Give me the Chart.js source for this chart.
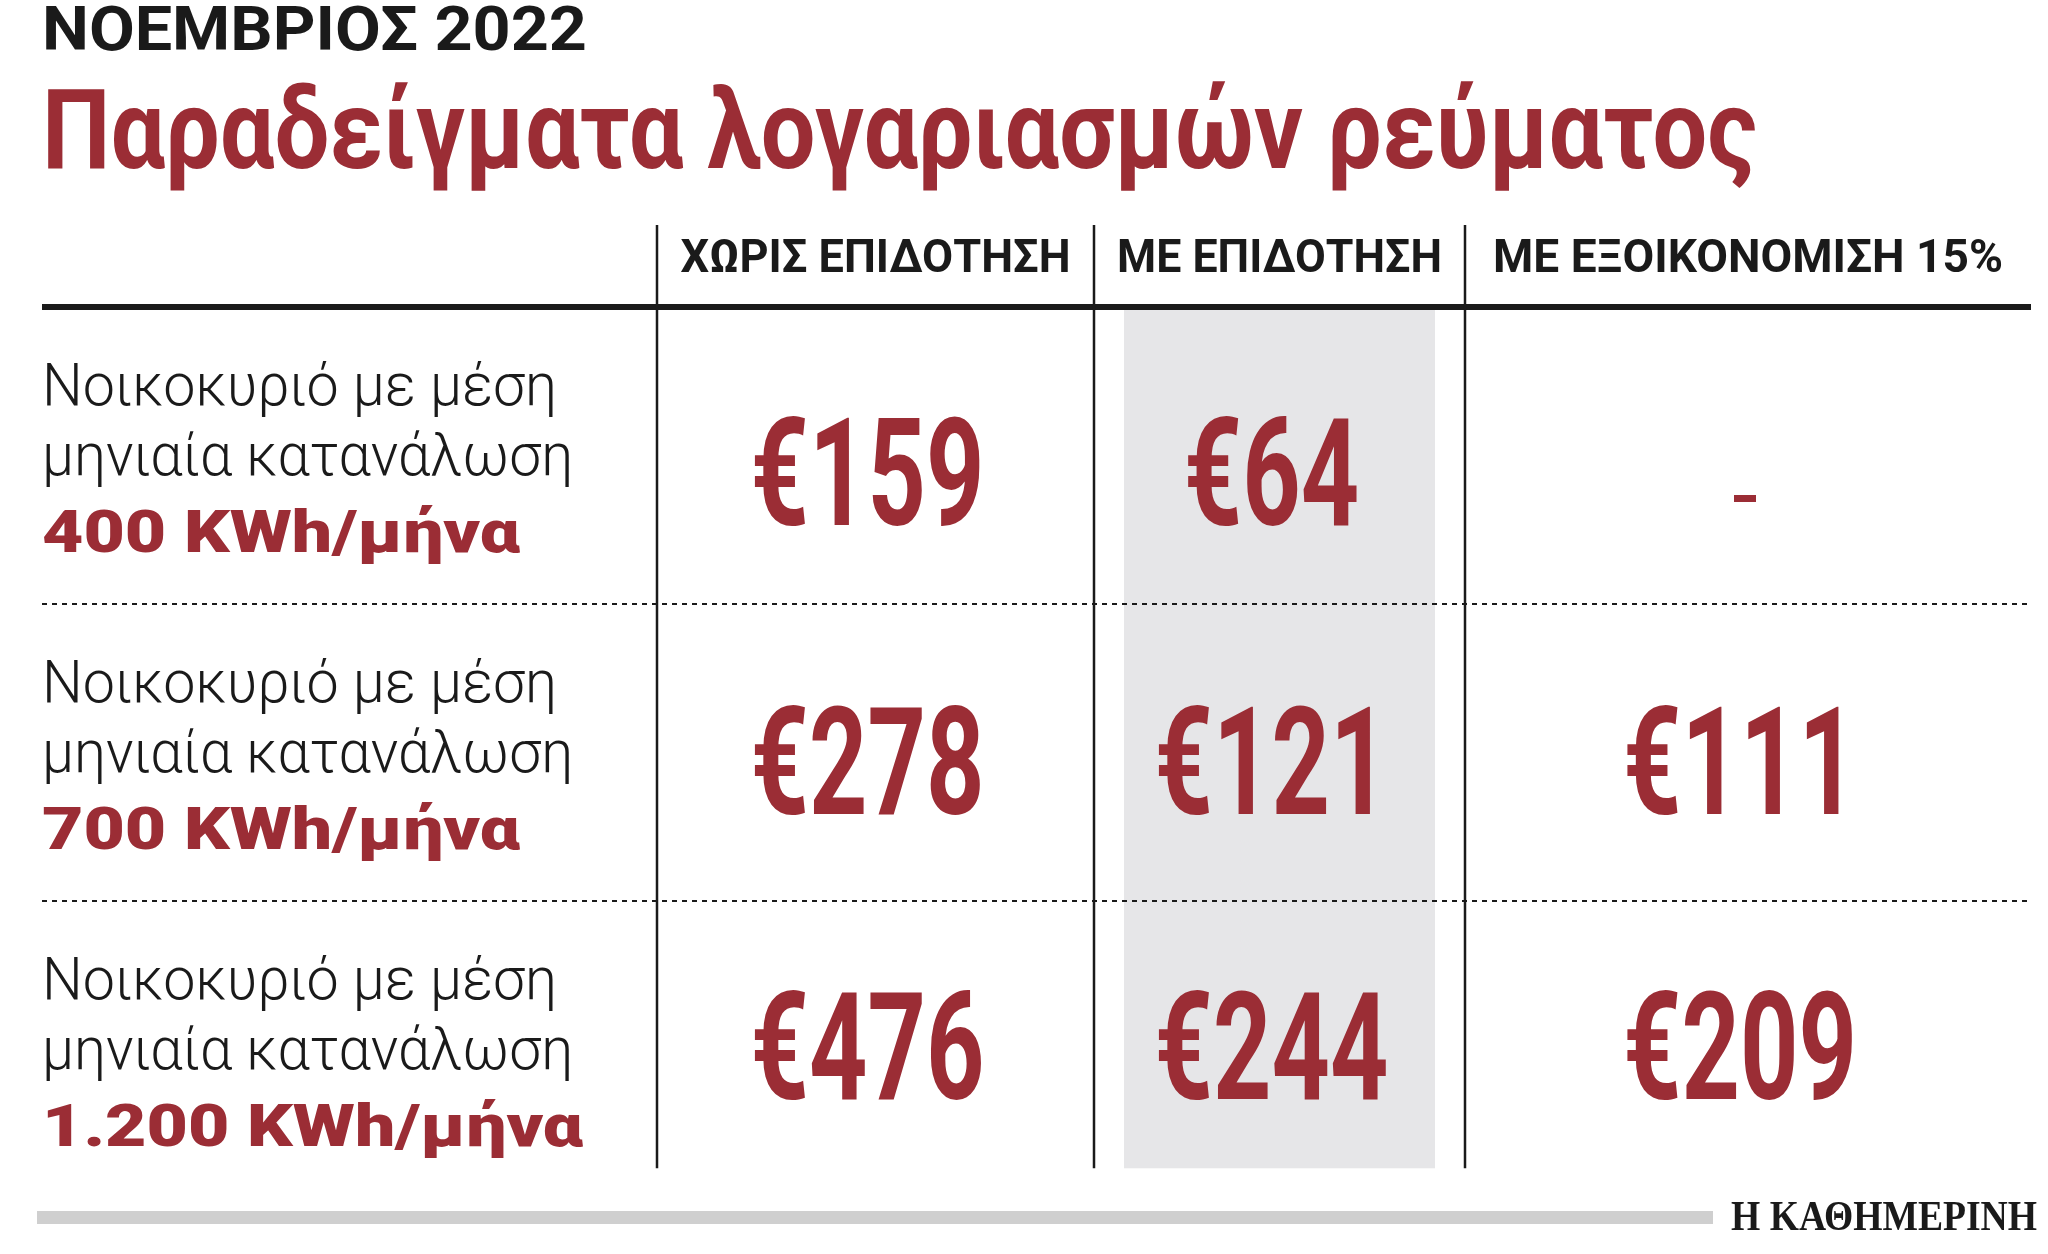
<!DOCTYPE html>
<html>
<head>
<meta charset="utf-8">
<script src="https://cdn.jsdelivr.net/npm/chart.js@4"></script>
<style>
  html, body { margin: 0; padding: 0; background: #fff; }
  #wrap { width: 2048px; height: 1254px; }
</style>
</head>
<body>
<div id="wrap"><canvas id="chart" width="2048" height="1254"></canvas></div>
<script>
// data
const kicker = 'ΝΟΕΜΒΡΙΟΣ 2022';
const title = 'Παραδείγματα λογαριασμών ρεύματος';
const columns = ['ΧΩΡΙΣ ΕΠΙΔΟΤΗΣΗ', 'ΜΕ ΕΠΙΔΟΤΗΣΗ', 'ΜΕ ΕΞΟΙΚΟΝΟΜΙΣΗ 15%'];
const colWidths = [615, 437, 371, 566];   // label column + 3 value columns
const rowLabel1 = 'Νοικοκυριό με μέση';
const rowLabel2 = 'μηνιαία κατανάλωση';
const consumption = ['400 KWh/μήνα', '700 KWh/μήνα', '1.200 KWh/μήνα'];
const noSubsidy = [159, 278, 476];
const withSubsidy = [64, 121, 244];
const withSaving = [null, 111, 209];
const source = 'Η ΚΑΘΗΜΕΡΙΝΗ';

const RED = '#9b2d35';
const colEdges = colWidths.reduce((a, w) => { a.push(a[a.length - 1] + w); return a; }, [0]);

function drawText(ctx, txt, x, y, font, color, align, sx) {
    ctx.save();
    ctx.font = font;
    ctx.fillStyle = color;
    ctx.textBaseline = 'alphabetic';
    ctx.translate(x, y);
    ctx.scale(sx, 1);
    ctx.textAlign = align;
    ctx.fillText(txt, 0, 0);
    ctx.restore();
}
function fitScale(ctx, txt, font, width) {
    ctx.save(); ctx.font = font;
    const w = ctx.measureText(txt).width;
    ctx.restore();
    return width / w;
}

const tablePlugin = {
    id: 'table',
    beforeDatasetsDraw(chart) {
        const ctx = chart.ctx;
        const x = chart.scales.x, y = chart.scales.y;
        // shaded column
        ctx.fillStyle = '#e6e6e8';
        const sx0 = x.getPixelForValue(colEdges[2] + 30), sx1 = x.getPixelForValue(colEdges[3] - 30);
        ctx.fillRect(sx0, y.getPixelForValue(0) + 3, sx1 - sx0, y.getPixelForValue(2.9) - y.getPixelForValue(0) - 3);
    },
    afterDatasetsDraw(chart) {
        const ctx = chart.ctx;
        const x = chart.scales.x, y = chart.scales.y;
        const left = x.getPixelForValue(0), right = x.getPixelForValue(colEdges[4]);
        const top = y.getPixelForValue(0);

        // titles
        let f = 'bold 62px Roboto';
        drawText(ctx, kicker, left, 50, f, '#1a1a1a', 'left', fitScale(ctx, kicker, f, 545));
        f = 'bold 112px Roboto';
        drawText(ctx, title, left, 168, f, RED, 'left', fitScale(ctx, title, f, 1715));

        // thick rule
        ctx.fillStyle = '#1a1a1a';
        ctx.fillRect(left, top - 3, right - left, 6);

        // vertical lines
        ctx.strokeStyle = '#1a1a1a';
        ctx.lineWidth = 2.5;
        for (let i = 1; i <= 3; i++) {
            const px = Math.round(x.getPixelForValue(colEdges[i]));
            ctx.beginPath();
            ctx.moveTo(px, 225);
            ctx.lineTo(px, y.getPixelForValue(2.9));
            ctx.stroke();
        }

        // dashed separators
        ctx.save();
        ctx.setLineDash([5, 5]);
        ctx.lineWidth = 2;
        for (let r = 1; r <= 2; r++) {
            const py = Math.round(y.getPixelForValue(r));
            ctx.beginPath();
            ctx.moveTo(left, py);
            ctx.lineTo(right, py);
            ctx.stroke();
        }
        ctx.restore();

        // headers
        f = 'bold 46px Roboto';
        const hw = [390, 325, 510];
        columns.forEach((c, i) => {
            const cx = x.getPixelForValue((colEdges[i + 1] + colEdges[i + 2]) / 2);
            drawText(ctx, c, cx, 272, f, '#1a1a1a', 'center', fitScale(ctx, c, f, hw[i]));
        });

        // row labels + values
        const lf = '300 60px Roboto';
        const ls = fitScale(ctx, rowLabel1, lf, 515);
        const bf = '900 60px Roboto';
        const bs = fitScale(ctx, consumption[0], bf, 478);
        const vf = 'bold 150px Roboto';
        const series = [noSubsidy, withSubsidy, withSaving];
        const lift = [4, 12, 24];
        for (let r = 0; r < 3; r++) {
            const base = y.getPixelForValue(r);
            drawText(ctx, rowLabel1, left, base + 98, lf, '#1a1a1a', 'left', ls);
            drawText(ctx, rowLabel2, left, base + 168, lf, '#1a1a1a', 'left', ls);
            drawText(ctx, consumption[r], left, base + 245, bf, RED, 'left', bs);
            series.forEach((s, c) => {
                const cx = x.getPixelForValue((colEdges[c + 1] + colEdges[c + 2]) / 2) - 8;
                const cy = base + 222 - lift[r];
                if (s[r] === null) {
                    ctx.fillStyle = RED;
                    ctx.fillRect(cx - 6, base + 188, 22, 7);
                } else {
                    drawText(ctx, '€' + s[r], cx, cy, vf, RED, 'center', 0.68);
                }
            });
        }

        // footer
        ctx.fillStyle = '#cfcfcf';
        ctx.fillRect(37, 1211, 1676, 13);
        f = 'bold 42px "Liberation Serif"';
        drawText(ctx, source, 2037, 1230, f, '#1a1a1a', 'right', fitScale(ctx, source, f, 306));
    }
};

new Chart(document.getElementById('chart'), {
    type: 'scatter',
    data: { datasets: [{ data: [] }] },
    options: {
        responsive: false,
        animation: false,
        layout: { padding: { left: 42, right: 17, top: 307, bottom: 56 } },
        plugins: { legend: { display: false }, tooltip: { enabled: false } },
        scales: {
            x: { type: 'linear', display: false, min: 0, max: colEdges[4] },
            y: { type: 'linear', display: false, min: 0, max: 3, reverse: true }
        }
    },
    plugins: [tablePlugin]
});
</script>
</body>
</html>
